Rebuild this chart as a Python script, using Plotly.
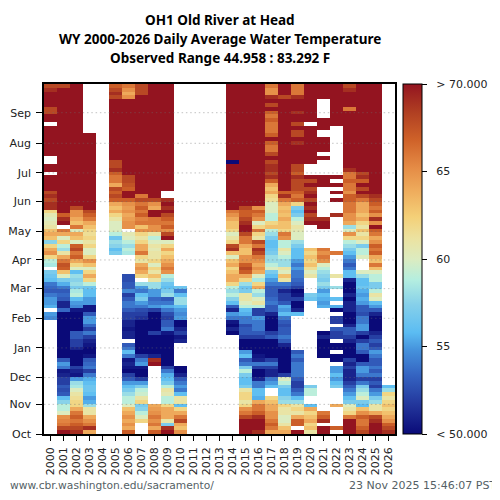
import plotly.graph_objects as go

N = None
YEARS = list(range(2000, 2027))
MONTHS = ["Oct", "Nov", "Dec", "Jan", "Feb", "Mar", "Apr", "May", "Jun", "Jul", "Aug", "Sep"]
MONTH_DAYS = [0, 31, 59, 90, 121, 152, 182, 212, 243, 273, 304, 336]
BIN_COUNT = 92

# Temperature (F) in roughly 4-day bins, listed from the end of September down to 1 October
y2000 = [68,69,70,70,70,70,68,68,70,70,N,70,70,70,70,70,70,70,70,N,N,70,
         70,N,70,70,70,70,68,69,68,69,69,62,60.5,60,60.5,61,63,64,63,57.5,62,64,65,
         62,59,58.5,N,57,56.5,56,54,53.5,53,54,55,55,55.5,N,55,54.5] + [N]*30
y2001 = [68]+[70]*21 + [70]*12+[67,69,70,N,66,64,60,62,59,58,61] + \
        [64,66,67.5,67,63,60,57,55.5,54,53,53.5,53,51,51,53.5]+[50]*9 + \
        [50,50,50,53,55,54,50.5,51,52,52,53,52.5,53,56,57.5,59,59,60,65,65.5,66,68,70]
y2002 = [70]*22 + [70]*10+[68,65,65,64,63,66,60,64,63,60,67,68,66] + \
        [67,64,62,60,56,58,57.5,58,57,58.5,59,56,55,54.5,50.5,50,50,50,50,50,53,53,52,52] + \
        [51,50,50,50,50,52,51,50.5,55,58,58.5,60,61,61.5,62,62,64,66,67,66,67,68,69]
y2003 = [N]*13+[70]*9 + [70]*11+[68,67,66,64,63,62,61.5,62,61,62,60,60] + \
        [62,65,63,60,62,64,62,59,56.5,56,56,55,55,50.5,50.5,53,55,55,53.5,52,54,52,51,50.5] + \
        [50,50,50.5,53,53.5,54,52,54,55.5,56,56.5,56.5,56,55,55.5,58,61,61,64,65,66,69,64]
y2004 = [N]*92
y2005 = [67,68,69,68]+[70]*16+[68,68] + \
        [69,67,66,66,64,68,67,68,67,64,63,64,62,61,60,60,60,59,56.5,58,57.5,56,57] + [N]*47
y2006 = [66,65,64,65]+[70]*18 + \
        [70,70,68,68,67.5,67,70,70,67,65,64.5,65,64,64.5,65,65,N,60.5,60,59,58,59,58.5] + \
        [N]*5+[52.5,52.5,53,53,54.5,52,53,54,54,53,52,52,51,51,50.5,51,51,N,53] + \
        [54,56,54,50.5,51,50.5,50,52,53,55,56,57,58,59,59,60,63,64,65,64,65,64,67]
y2007 = [68,68,68]+[70]*19 + \
        [70]*7+[66,68,66,67,66,67,65.5,66,63,65,62,61,62,64,64,66] + \
        [62,61,64,65,64,62,N,58,55,54,56,57,55,54,52.5,52,51.5]+[50]*7 + \
        [50,50,52,54,55,50.5,50,50,52,55,57,59,59.5,61,62,57,57.5,59,60,62,N,N,N]
y2008 = [70]*22 + \
        [70]*8+[68,65,64,70,70,66,66,65,65,61,59,60,61,60.5,61] + \
        [61,62,60,62,61,63,61,58,58,55,55,53.5,54,55,52,50,50,50,50,50,52,50,50,50] + \
        [50,50,51,69,70]+[N]*10+[64,64.5,65,66,65,66,64,67]
y2009 = [70]*22 + \
        [70]*6+[N,N,69,70,69,70,68,67,66,67,65,68,70,60,62,64,62] + \
        [63,64,65,66,65,59,58,56.5,56,57,58,53,54,55.5,54,52.5,52,53,53,54,50.5,50,50,50] + \
        [50,50,50,50,50,52,54,55.5,56,57,59,61,60.5,59,59,62,64,64,64,61,57,69,70]
y2010 = [N]*22 + [N]*23 + \
        [N]*8+[56.5,54,56,58,58,56,55,54.5,55,50,50,51,52,50.5,51,N] + \
        [N]*5+[50,50,51,53,54,55,54,56,61,61,56,62,64,66,68,64,63,65]
y2011 = [N]*92
y2012 = [N]*92
y2013 = [N]*92
y2014 = [70]*20+[50,70] + \
        [70]*11+[66,65,64,63,63,62,60,61,62,68,69,63] + \
        [60,63,64,62,63,64,64,62,59,58,59,57.5,56,53,51,55,54,50.5,50,51,50,N,N,N] + [N]*23
y2015 = [70]*22 + \
        [70]*10+[68,67,67,68,69,70,70,68,66,66,64,63,63] + \
        [65,65,67,68,67,64,62,58,56.5,57,61,61,60,59,56,55.5,54,54,52.5,53,53,52,50,50] + \
        [50,55,56,53,54,57,59,57,56,56,57,61,62,62,61,62,65,66,68,70,70,70,70]
y2016 = [70]*22 + \
        [70]*10+[65,67,66,65,60,62,66,62,61,68,66,69,68] + \
        [66,65,64,65,64,60,58.5,62,64,59,58,60,61,59,52,52,55,54,54,54,53,52,50,50] + \
        [50,50,50.5,51,54,52,50,50,51,54,54,56,56,55.5,64,66,66,67,69,70,70,70,69]
y2017 = [66,65,65,69,70,68,70,67,66,67,66,66,66,67,70,67,66,66,68,70,68,69] + \
        [69,68,69,67,64,63,64,62,61.5,60,60,60,59,59,62,63,59,58,57,56,56,56.5,57] + \
        [58,58,59,60,57,56,55,54,53,53,53,53.5,54,53,53,51,50,50,50,50,52,53,50,50] + \
        [50,50,50,52,54,52,51,51,54,55,56,N,N,62,63,64,64,65,65,66,67,66,64]
y2018 = [70,70,70,68]+[70]*18 + \
        [70]*6+[67,69,66,64,63,63.5,63,64,63,63,62,66,65,59,59,61,60] + \
        [59,58,58,61,60,63,61,54,53,51,52,52,53,55.5,55,56,54,53,52.5,53,53,54,53,51] + \
        [50]*7+[52,60,59,57,56,56,57.5,58,62,61,61,60,60,61,63,64]
y2019 = [66,66,66,69,70,70,70,69,70,70,68,70,68,68,70,69,70,70,70,70,70,68] + \
        [68,67,69,68,68,68,67,66,67,62,57,56,57,59,60,61,60.5,60,60,58,57,56,56] + \
        [56,55,54,55,54,54,53.5,53,52,50,50.5,52,50,50,51,56]+[N]*8 + \
        [N,53,54,53,54,54,54,54,53,52,52,53,54,56,58,61,62,61,64,67,67,N,70]
y2020 = [70]*10+[N]+[70]*10+[N] + \
        [N,N,70,68,70,68,69,70,68,70,69,70,68,69,70]+[N]*6+[63,62] + \
        [63,62,63,61.5,60,61,N,N,N,N,57,56.5]+[N]*12 + \
        [N]*10+[57,59,59,N,N,56,64,62,63,64,62,63,61]
y2021 = [70,70,70,70,N,N,N,N,N,70,70,70,N,N,70,70,70,70,N,70,N,N] + \
        [N,N,70,70,70]+[N]*8+[69,70,70]+[N]*5+[66,65] + \
        [66,65,60,59,58,57.5,57,58,57,55,56,55.5,55,55.5,N,N,N,N,N,N,50,51,50,50] + \
        [50,50,50]+[N]*14+[66,67,69,N,70,70]
y2022 = [70]*11+[N]*11 + \
        [N,N,70,N,70,N,70,N,70,N,N,N,69]+[N]*9+[66] + \
        [N,N,N,N,N,61,N,N,58,N,N,56,N,55.5,50,N,52,52,N,53,52,52,N,50] + \
        [50,N,50,50,N,55,55,56,55,56,57,N,N,N,N,64,N,N,N,N,N,67,N]
y2023 = [68,69,70,70,70,70,66]+[70]*15 + \
        [69,66,66,67,66,66,65,67,67,66,66,66,65,65,64,58,60,65,62,59,58,57,56] + \
        [55,54,53,54,56,56,51,50,50,50,51,50,51,51,51,50,50,50,51,53,53,52,51,50] + \
        [50,50,50,52,51,52,51,51,51,52,53,54,55,56,57,60,61,62,66,70,70,70,70]
y2024 = [70]*22 + \
        [70,68,69,67,70,68,70,68,66,64,64,64,63,64,62,61,63,61,62,60,57,59,59] + \
        [60,N,N,N,60,58,56,56,56.5,55.5,55,55.5,55,53,53,52.5,54,54,55,55,52,50,52,54] + \
        [54,53,50,50,53,55,55,54,52,54,57,58,59,60,57,56,63,65,67,66,66,67,68]
y2025 = [70]*22 + \
        [70]*7+[69,68,67,66,67,65,69,65,70,67,66,64,65,67,66,67] + \
        [64,63,66,63,60,59,59,57,57,59,61,60,56,55,53,51,50,50,50,50,51,52,53,52] + \
        [53,55,54,53,53,54,53,54,52,53,52,54,55,57,58,61,61,64,68,69,70,70,70]
y2026 = [N]*69 + [N]*10+[56,58,62,61,62,63,62,63,64,65,67,68,69]

ALL_YEARS = [y2000,y2001,y2002,y2003,y2004,y2005,y2006,y2007,y2008,y2009,y2010,y2011,y2012,
             y2013,y2014,y2015,y2016,y2017,y2018,y2019,y2020,y2021,y2022,y2023,y2024,y2025,y2026]
TITLE_LINES = ["OH1 Old River at Head",
               "WY 2000-2026 Daily Average Water Temperature",
               "Observed Range 44.958 : 83.292 F"]

COLORS = [[0.00, "#0a0a78"], [0.08, "#22349a"], [0.17, "#3565c2"], [0.24, "#4592dc"],
          [0.29, "#5bbcf2"], [0.37, "#86d0ea"], [0.44, "#b4eee0"], [0.50, "#dcecc0"],
          [0.56, "#ece2a0"], [0.62, "#f4d078"], [0.69, "#efae5e"], [0.76, "#e58c46"],
          [0.84, "#cf6229"], [0.92, "#b03f22"], [1.00, "#931420"]]

rows = []
for b in range(BIN_COUNT):
    rows.append([(col[BIN_COUNT - 1 - b] if len(col) == BIN_COUNT else None) for col in ALL_YEARS])
for yr, col in zip(YEARS, ALL_YEARS):
    if len(col) != BIN_COUNT:
        print("bad length", yr, len(col))

span = 366
ys = [(k + 0.5) * span / BIN_COUNT for k in range(BIN_COUNT)]
FONT = "DejaVu Sans"
INK = "#222222"
PAD = "\u00a0\u00a0"

fig = go.Figure(go.Heatmap(
    x=YEARS, y=ys, z=rows, zmin=50, zmax=70, colorscale=COLORS, hoverongaps=False,
    colorbar=dict(
        x=(403 - 44) / 351, xanchor="left", xpad=0, ypad=0, y=0.5, yanchor="middle",
        len=1, lenmode="fraction", thickness=19, thicknessmode="pixels",
        outlinecolor="black", outlinewidth=1, ticks="outside", ticklen=5, tickwidth=1,
        tickcolor="black", tickvals=[50, 55, 60, 65, 70],
        ticktext=[PAD + t for t in ["< 50.000", "55", "60", "65", "> 70.000"]],
        tickfont=dict(family=FONT, size=11, color=INK),
    ),
))

fig.update_xaxes(range=[1999.5, 2026.5], tickvals=YEARS, ticktext=[str(v) for v in YEARS],
                 tickangle=-90, ticks="outside", ticklen=5, tickcolor="black", automargin=False,
                 ticklabelstandoff=2,
                 tickfont=dict(family=FONT, size=11, color=INK), showgrid=False, zeroline=False,
                 showline=True, mirror=True, linecolor="black", linewidth=1.5)
fig.update_yaxes(range=[0, span], tickvals=MONTH_DAYS, ticktext=MONTHS, ticks="outside",
                 ticklen=6, tickcolor="black", tickfont=dict(family=FONT, size=11, color=INK),
                 ticklabelstandoff=3,
                 showgrid=False, zeroline=False, showline=True, mirror=True, automargin=False,
                 linecolor="black", linewidth=1.5)

for d in MONTH_DAYS[1:]:
    fig.add_shape(type="line", xref="paper", x0=0, x1=1, yref="y", y0=d, y1=d, layer="above",
                  line=dict(color="rgba(110,110,110,0.42)", width=1, dash="1.5px,2.8px"))

for i, line in enumerate(TITLE_LINES):
    fig.add_annotation(text=line, xref="paper", yref="paper", x=0.5, y=(434 - (20 + 19 * i)) / 350,
                       xanchor="center", yanchor="middle", showarrow=False,
                       font=dict(family="Noto Sans", size=13.5, color="black", weight="bold"))
# The page's 8 px body margin clips anything left of x = 8, so this label starts just inside it
fig.add_annotation(text="www.cbr.washington.edu/sacramento/", xref="paper", yref="paper",
                   x=(8 - 44) / 351, y=(434 - 485) / 350, xanchor="left", yanchor="middle",
                   showarrow=False, font=dict(family=FONT, size=10.7, color="#555f66"))
fig.add_annotation(text="23 Nov 2025 15:46:07 PST", xref="paper", yref="paper",
                   x=(498 - 44) / 351, y=(434 - 485) / 350, xanchor="right", yanchor="middle",
                   showarrow=False, font=dict(family=FONT, size=11, color="#555f66"))

# Page body has an 8 px margin, so the margins below are 8 px smaller on the top and left
fig.update_layout(width=500, height=500, autosize=False, paper_bgcolor="white",
                  plot_bgcolor="white", margin=dict(l=36, r=113, t=76, b=74, pad=0))
fig.write_html("out.html")
